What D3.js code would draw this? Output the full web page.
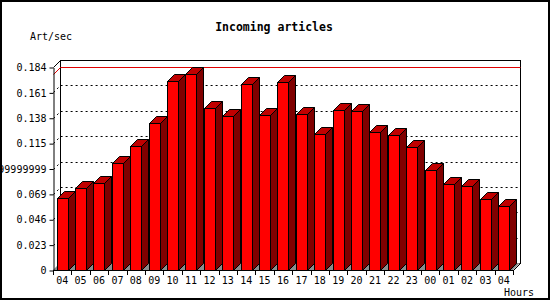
<!DOCTYPE html>
<html>
<head>
<meta charset="utf-8">
<script src="https://cdn.jsdelivr.net/npm/d3@7"></script>
<style>
  body { margin: 0; background: #fff; }
  svg { display: block; }
  text { font-family: "DejaVu Sans Mono", monospace; font-size: 10px; fill: #000; }
</style>
</head>
<body>
<div id="vis"></div>
<script>
const WIDTH = 550;
const HEIGHT = 300;
const DEPTH = 7; // 3d offset of the back wall

// data
const hours = ["04","05","06","07","08","09","10","11","12","13","14","15","16",
               "17","18","19","20","21","22","23","00","01","02","03","04"];
const artPerSec = [0.0650, 0.0740, 0.0786, 0.0967, 0.1124, 0.1330, 0.1710, 0.1774,
                   0.1466, 0.1393, 0.1683, 0.1402, 0.1701, 0.1411, 0.1230, 0.1448,
                   0.1438, 0.1248, 0.1221, 0.1112, 0.0904, 0.0777, 0.0759, 0.0641,
                   0.0580];
const yTicks = [0, 0.023, 0.046, 0.069, 0.092, 0.115, 0.138, 0.161, 0.184];
const yTickLabels = ["0", "0.023", "0.046", "0.069", "0.09199999999", "0.115",
                     "0.138", "0.161", "0.184"];

const LEFT = 53, RIGHT = 513, BOTTOM = 270, TOP = 67;

const svg = d3.select("#vis").append("svg")
    .attr("width", WIDTH)
    .attr("height", HEIGHT);

// outer frame
svg.append("rect")
    .attr("x", 1).attr("y", 1)
    .attr("width", WIDTH - 2).attr("height", HEIGHT - 2)
    .attr("fill", "#fff").attr("stroke", "#000").attr("stroke-width", 2);

const x = d3.scaleBand()
    .domain(d3.range(hours.length))
    .range([LEFT, RIGHT]);

const y = d3.scaleLinear()
    .domain([0, 0.184])
    .range([BOTTOM, TOP]);

const barW = x.bandwidth() * 0.6;

// back wall
svg.append("rect")
    .attr("x", LEFT + DEPTH + 0.5).attr("y", TOP - DEPTH + 0.5)
    .attr("width", RIGHT - LEFT).attr("height", BOTTOM - TOP)
    .attr("fill", "#fff").attr("stroke", "#000");

// floor
svg.append("polygon")
    .attr("points", [[LEFT, BOTTOM], [LEFT + DEPTH, BOTTOM - DEPTH],
                     [RIGHT + DEPTH, BOTTOM - DEPTH], [RIGHT, BOTTOM]].join(" "))
    .attr("fill", "#8c8c8c");

// left wall top edge + right floor edge
svg.append("line")
    .attr("x1", LEFT + 0.5).attr("y1", TOP + 0.5)
    .attr("x2", LEFT + DEPTH + 0.5).attr("y2", TOP - DEPTH + 0.5)
    .attr("stroke", "#000");
svg.append("line")
    .attr("x1", RIGHT + 0.5).attr("y1", BOTTOM + 0.5)
    .attr("x2", RIGHT + DEPTH + 0.5).attr("y2", BOTTOM - DEPTH + 0.5)
    .attr("stroke", "#000");

// dotted grid on the back wall
svg.append("g").selectAll("polyline")
  .data(yTicks.slice(1, -1))
  .join("polyline")
    .attr("points", d => {
      const yy = Math.round(y(d)) + 0.5;
      return [[LEFT + 0.5, yy], [LEFT + DEPTH + 0.5, yy - DEPTH],
              [RIGHT + DEPTH + 0.5, yy - DEPTH]].join(" ");
    })
    .attr("fill", "none")
    .attr("stroke", "#000")
    .attr("stroke-dasharray", "2,3");

// max line in red
const maxV = d3.max(artPerSec);
const ym = Math.round(y(maxV)) + 0.5;
svg.append("polyline")
    .attr("points", [[LEFT + 0.5, ym], [LEFT + DEPTH + 0.5, ym - DEPTH],
                     [RIGHT + DEPTH + 0.5, ym - DEPTH]].join(" "))
    .attr("fill", "none")
    .attr("stroke", "#e00000");

// bars
const bars = svg.append("g").selectAll("g")
  .data(artPerSec)
  .join("g");

bars.each(function(d, i) {
  const g = d3.select(this);
  const x0 = Math.round(x(i) + (x.bandwidth() - barW) / 2) + 0.5;
  const x1 = x0 + Math.round(barW);
  const yt = Math.round(y(d)) + 0.5;
  const yb = BOTTOM + 0.5;
  g.append("polygon") // side
      .attr("points", [[x1, yt], [x1 + DEPTH, yt - DEPTH], [x1 + DEPTH, yb - DEPTH], [x1, yb]].join(" "))
      .attr("fill", "#800000").attr("stroke", "#000");
  g.append("polygon") // top
      .attr("points", [[x0, yt], [x0 + DEPTH, yt - DEPTH], [x1 + DEPTH, yt - DEPTH], [x1, yt]].join(" "))
      .attr("fill", "#c00000").attr("stroke", "#000");
  g.append("rect") // front
      .attr("x", x0).attr("y", yt)
      .attr("width", x1 - x0).attr("height", yb - yt)
      .attr("fill", "#ff0000").attr("stroke", "#000");
});

// y axis
const yAxis = svg.append("g")
    .attr("transform", `translate(${LEFT + 0.5},0.5)`)
    .call(d3.axisLeft(y)
      .tickValues(yTicks)
      .tickFormat((d, i) => yTickLabels[i])
      .tickSize(4)
      .tickSizeOuter(0)
      .tickPadding(3));
yAxis.select(".domain").attr("stroke", "#000");
yAxis.selectAll("text").attr("font-family", null).attr("font-size", null);

// x axis: line, ticks at category edges, labels at centres
svg.append("line")
    .attr("x1", LEFT + 0.5).attr("y1", BOTTOM + 0.5)
    .attr("x2", RIGHT + 0.5).attr("y2", BOTTOM + 0.5)
    .attr("stroke", "#000");
svg.append("g").selectAll("line")
  .data(d3.range(hours.length + 1))
  .join("line")
    .attr("x1", i => Math.round(i < hours.length ? x(i) : RIGHT) + 0.5)
    .attr("x2", i => Math.round(i < hours.length ? x(i) : RIGHT) + 0.5)
    .attr("y1", BOTTOM)
    .attr("y2", BOTTOM + 5)
    .attr("stroke", "#000");
svg.append("g").selectAll("text")
  .data(hours)
  .join("text")
    .attr("x", (d, i) => x(i) + x.bandwidth() / 2)
    .attr("y", 284)
    .attr("text-anchor", "middle")
    .text(d => d);

// titles
svg.append("text")
    .attr("x", 274).attr("y", 31)
    .attr("text-anchor", "middle")
    .style("font-size", "11.5px")
    .style("font-weight", "bold")
    .text("Incoming articles");
svg.append("text")
    .attr("x", 30).attr("y", 40)
    .text("Art/sec");
svg.append("text")
    .attr("x", 534).attr("y", 296)
    .attr("text-anchor", "end")
    .text("Hours");
</script>
</body>
</html>
